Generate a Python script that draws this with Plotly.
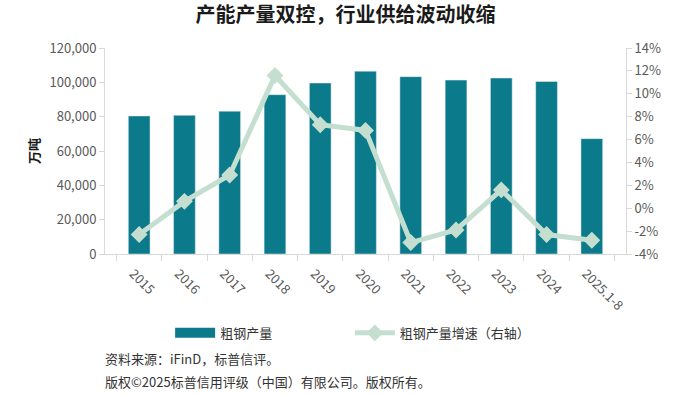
import plotly.graph_objects as go

categories = ["2015", "2016", "2017", "2018", "2019", "2020", "2021", "2022", "2023", "2024", "2025.1-8"]
output_wt = [80400, 80800, 83200, 92800, 99600, 106500, 103300, 101300, 102500, 100500, 67200]
growth_pct = [-2.3, 0.6, 2.9, 11.6, 7.3, 6.8, -3.0, -1.9, 1.6, -2.3, -2.8]
yleft_ticks = [0, 20000, 40000, 60000, 80000, 100000, 120000]
yright_ticks = [-4, -2, 0, 2, 4, 6, 8, 10, 12, 14]
yright_labels = [f"{v}%" for v in yright_ticks]

BAR = "#0B7A8B"
LINE = "#C4DFD0"
AX = "#D9D9D9"
TXT = "#595959"
FONT = "Noto Sans CJK SC"

fig = go.Figure()
fig.add_trace(go.Bar(x=categories, y=output_wt, name="粗钢产量", marker_color=BAR,
                     showlegend=False, yaxis="y"))
fig.add_trace(go.Scatter(x=categories, y=growth_pct, name="粗钢产量增速（右轴）", yaxis="y2",
                         mode="lines+markers", line=dict(color=LINE, width=5),
                         marker=dict(symbol="diamond", size=13, color=LINE),
                         legend="legend2"))
# legend-only entry for the bars (wide swatch)
fig.add_trace(go.Scatter(x=[None], y=[None], name="粗钢产量", mode="lines",
                         line=dict(color=BAR, width=10), legend="legend"))

fig.update_layout(
    width=691, height=395,
    margin=dict(l=105, r=65, t=48, b=141, autoexpand=False),
    paper_bgcolor="white", plot_bgcolor="white",
    font=dict(family=FONT, size=13, color=TXT),
    bargap=0.52,
    title=dict(text="产能产量双控，行业供给波动收缩", x=0.5, xref="container", xanchor="center",
               y=1 - 15/395, yref="container", yanchor="middle",
               font=dict(family=FONT, size=20, color="#1a1a1a", weight="bold")),
    xaxis=dict(type="category", tickangle=45, showline=True, linecolor=AX, linewidth=1,
               ticks="outside", tickson="boundaries", ticklen=6, tickcolor=AX, automargin=False,
               ticklabelstandoff=6, ticklabelshift=-6,
               tickfont=dict(size=13, color=TXT), showgrid=False),
    yaxis=dict(range=[0, 120000], tickvals=yleft_ticks, tickformat=",", showgrid=False,
               showline=True, linecolor=AX, ticks="outside", ticklen=5, tickcolor=AX,
               tickfont=dict(size=13, color=TXT), zeroline=False, automargin=False,
               title=dict(text="万吨", standoff=6, font=dict(size=13, color="#1a1a1a", weight="bold"))),
    yaxis2=dict(range=[-4, 14], tickmode="array", tickvals=yright_ticks, ticktext=yright_labels,
                overlaying="y", side="right", automargin=False,
                showgrid=False, showline=True, linecolor=AX, ticks="outside", ticklen=5,
                tickcolor=AX, tickfont=dict(size=13, color=TXT), zeroline=False),
    legend=dict(orientation="h", x=0.125, xanchor="left", y=-0.383, yanchor="middle",
                font=dict(size=13, color="#333333"), bgcolor="rgba(0,0,0,0)", itemwidth=40),
    legend2=dict(orientation="h", x=0.47, xanchor="left", y=-0.383, yanchor="middle",
                 font=dict(size=13, color="#333333"), bgcolor="rgba(0,0,0,0)", itemwidth=40),
    annotations=[
        dict(text="资料来源：iFinD，标普信评。", xref="paper", yref="paper", x=-0.004, y=-0.505,
             xanchor="left", yanchor="middle", showarrow=False, font=dict(size=13, color="#333333")),
        dict(text="版权©2025标普信用评级（中国）有限公司。版权所有。", xref="paper", yref="paper",
             x=-0.004, y=-0.617, xanchor="left", yanchor="middle", showarrow=False,
             font=dict(size=13, color="#333333")),
    ],
)

fig.write_html("out.html", config={"displayModeBar": False},
               post_script="document.body.style.margin='0';document.body.style.overflow='hidden';")
